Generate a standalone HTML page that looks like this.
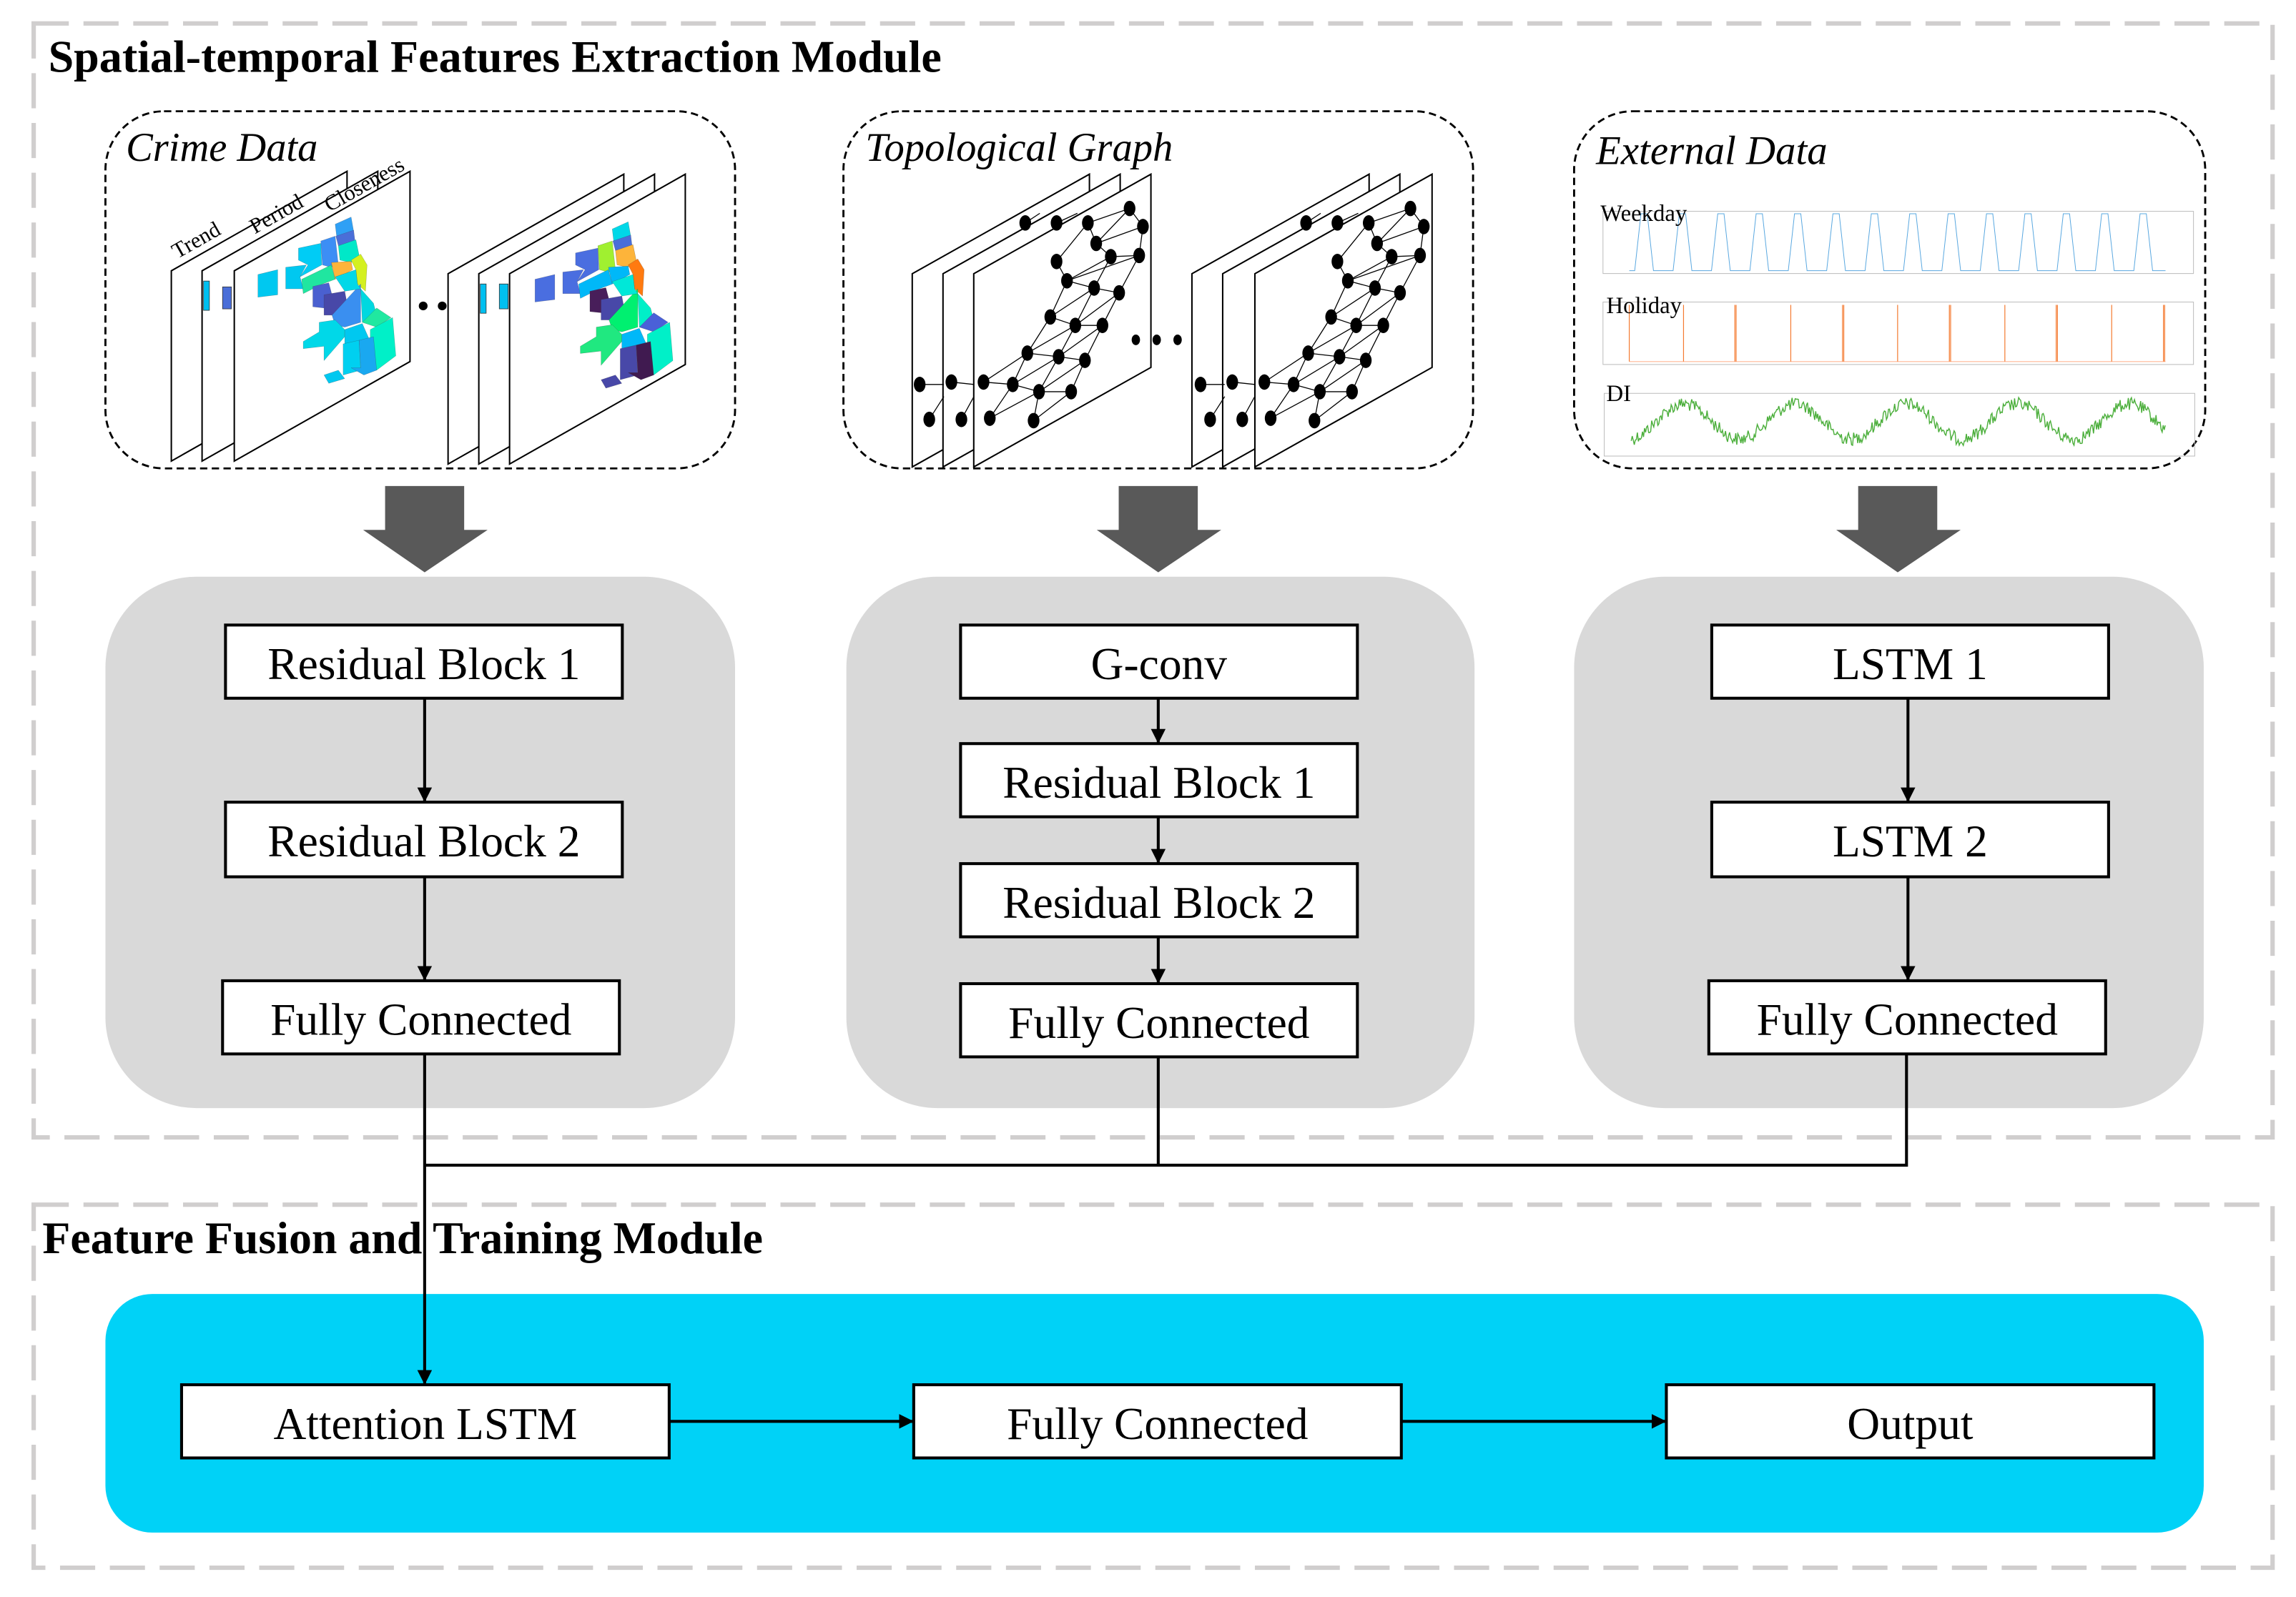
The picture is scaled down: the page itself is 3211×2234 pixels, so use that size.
<!DOCTYPE html>
<html><head><meta charset="utf-8"><style>
html,body{margin:0;padding:0;background:#fff;}
svg{display:block;}
text{font-family:"Liberation Serif",serif;}
</style></head><body>
<svg id="s" width="3211" height="2234" viewBox="0 0 1568 1091" preserveAspectRatio="none" xmlns="http://www.w3.org/2000/svg">
<defs>
<marker id="ah" viewBox="0 0 10 10" refX="10" refY="5" markerWidth="10" markerHeight="10" markerUnits="userSpaceOnUse" orient="auto">
<path d="M0,0 L10,5 L0,10 z" fill="#000"/></marker>
</defs>
<rect width="1568" height="1091" fill="#fff"/>
<rect x="23" y="16" width="1529" height="761" fill="none" stroke="#d0cece" stroke-width="3" stroke-dasharray="24 10"/>
<rect x="23" y="823" width="1529" height="248" fill="none" stroke="#d0cece" stroke-width="3" stroke-dasharray="24 10"/>
<text x="33" y="49" font-size="31" font-weight="bold" textLength="610" lengthAdjust="spacingAndGlyphs">Spatial-temporal Features Extraction Module</text>
<text x="29" y="856" font-size="31" font-weight="bold" textLength="492" lengthAdjust="spacingAndGlyphs">Feature Fusion and Training Module</text>

<rect x="72" y="76" width="430" height="244" rx="40" fill="none" stroke="#000" stroke-width="1.4" stroke-dasharray="5 3"/>
<rect x="576" y="76" width="430" height="244" rx="40" fill="none" stroke="#000" stroke-width="1.4" stroke-dasharray="5 3"/>
<rect x="1075" y="76" width="431" height="244" rx="40" fill="none" stroke="#000" stroke-width="1.4" stroke-dasharray="5 3"/>
<text x="86" y="110" font-size="28" font-style="italic" textLength="131" lengthAdjust="spacingAndGlyphs">Crime Data</text>
<text x="591" y="110" font-size="28" font-style="italic" textLength="210" lengthAdjust="spacingAndGlyphs">Topological Graph</text>
<text x="1090" y="112" font-size="28" font-style="italic" textLength="158" lengthAdjust="spacingAndGlyphs">External Data</text>

<g fill="#fff" stroke="#000" stroke-width="1">
<polygon points="117,185 237,117 237,247 117,315"/>
<polygon points="138,185 258,117 258,247 138,315"/>
<polygon points="160,185 280,117 280,247 160,315"/>
<polygon points="306,187 426,119 426,249 306,317"/>
<polygon points="327,187 447,119 447,249 327,317"/>
<polygon points="348,187 468,119 468,249 348,317"/>
</g>
<g font-size="15">
<text transform="translate(121,177) rotate(-29.5)">Trend</text>
<text transform="translate(174,160) rotate(-29.5)">Period</text>
<text transform="translate(225,145) rotate(-29.5)">Closeness</text>
</g>
<circle cx="289" cy="209" r="3" fill="#000"/><circle cx="302" cy="209" r="3" fill="#000"/>
<g stroke="#333" stroke-width="0.4">
<rect x="139" y="192" width="4" height="20" fill="#00c0f0"/>
<rect x="152" y="196" width="6" height="15" fill="#4a6ed8"/>
<rect x="328" y="194" width="4" height="20" fill="#00c0f0"/>
<rect x="341" y="194" width="6" height="17" fill="#00c0f0"/>
</g>
<g transform="translate(122.07,112.3) scale(0.2180,0.1635)" stroke="#333" stroke-width="0.5">
<g>
<polygon fill="#00c8f0" points="248,460 310,440 310,545 248,555"/>
<polygon fill="#00c8f0" points="335,430 400,420 380,470 390,520 335,520"/>
<polygon fill="#00ccf5" points="375,350 445,330 448,420 380,470 405,420 375,400"/>
<polygon fill="#3c8ef5" points="445,320 490,300 500,420 478,430 450,420"/>
<polygon fill="#2fa0f5" points="490,250 540,220 548,280 495,305"/>
<polygon fill="#4a6ed8" points="492,300 548,275 552,320 500,340"/>
<polygon fill="#00e8c8" points="500,340 555,315 565,380 540,410 505,400"/>
<polygon fill="#fdb43a" points="478,410 540,405 545,440 490,480"/>
<polygon fill="#d4f020" points="540,400 570,375 590,420 585,530 560,500 555,440"/>
<polygon fill="#20e6a0" points="385,480 478,420 490,480 450,500 390,540"/>
<polygon fill="#4a60d0" points="420,510 470,495 480,545 455,600 420,595"/>
<polygon fill="#4848a8" points="455,545 520,530 530,600 480,630 455,630"/>
<polygon fill="#3a8ff0" points="480,630 570,500 570,660 520,680 490,670"/>
<polygon fill="#00d8e8" points="490,470 555,440 560,500 570,520 520,530"/>
<polygon fill="#00d8e0" points="570,520 610,580 620,630 575,660"/>
<polygon fill="#20e8a0" points="575,660 620,600 665,640 620,680"/>
<polygon fill="#00d8e8" points="440,660 490,650 520,690 520,720 455,820 455,760 390,770 390,740 440,700"/>
<polygon fill="#00c8f0" points="520,690 575,665 600,740 560,740 520,750"/>
<polygon fill="#00f0c8" points="600,690 670,640 680,800 620,860 600,800"/>
<polygon fill="#00d0f0" points="515,750 565,735 570,860 515,880"/>
<polygon fill="#1aa8f0" points="565,735 610,720 620,860 580,880 540,850 570,850"/>
<polygon fill="#00c8f0" points="455,880 500,860 520,895 470,915"/>
</g>
<g transform="translate(868,20)">
<polygon fill="#4a6ee0" points="248,460 310,440 310,545 248,555"/>
<polygon fill="#4a6ee0" points="335,430 400,420 380,470 390,520 335,520"/>
<polygon fill="#4a6ee0" points="375,350 445,330 448,420 380,470 405,420 375,400"/>
<polygon fill="#a0f030" points="445,320 490,300 500,420 478,430 450,420"/>
<polygon fill="#00d8e8" points="490,250 540,220 548,280 495,305"/>
<polygon fill="#4a6ed8" points="492,300 548,275 552,320 500,340"/>
<polygon fill="#fdb43a" points="500,340 555,315 565,380 540,410 505,400"/>
<polygon fill="#00b8f8" points="478,410 540,405 545,440 490,480"/>
<polygon fill="#ff7a10" points="540,400 570,375 590,420 585,530 560,500 555,440"/>
<polygon fill="#00b8f8" points="385,480 478,420 490,480 450,500 390,540"/>
<polygon fill="#481e5a" points="420,510 470,495 480,545 455,600 420,595"/>
<polygon fill="#4848a8" points="455,545 520,530 530,600 480,630 455,630"/>
<polygon fill="#00f070" points="480,630 570,500 570,660 520,680 490,670"/>
<polygon fill="#00e8d8" points="490,470 555,440 560,500 570,520 520,530"/>
<polygon fill="#00f0c8" points="570,520 610,580 620,630 575,660"/>
<polygon fill="#4a60d8" points="575,660 620,600 665,640 620,680"/>
<polygon fill="#20e880" points="440,660 490,650 520,690 520,720 455,820 455,760 390,770 390,740 440,700"/>
<polygon fill="#00b8f8" points="520,690 575,665 600,740 560,740 520,750"/>
<polygon fill="#00f0c8" points="600,690 670,640 680,800 620,860 600,800"/>
<polygon fill="#4848a8" points="515,750 565,735 570,860 515,880"/>
<polygon fill="#401a50" points="565,735 610,720 620,860 580,880 540,850 570,850"/>
<polygon fill="#4848a8" points="455,880 500,860 520,895 470,915"/>
</g>
</g>

<g fill="#fff" stroke="#000" stroke-width="1">
<polygon points="623,187 744,119 744,251 623,319"/>
<polygon points="644,187 765,119 765,251 644,319"/>
<polygon points="665,187 786,119 786,251 665,319"/>
<polygon points="814,187 935,119 935,251 814,319"/>
<polygon points="835,187 956,119 956,251 835,319"/>
<polygon points="857,187 978,119 978,251 857,319"/>
</g>
<g transform="translate(576.2,73.24) scale(0.2850,0.1647)">
<g id="gr">
<path vector-effect="non-scaling-stroke" stroke="#000" stroke-width="1.3" fill="none" d="M685,420L717,495 M685,420L585,480 M685,420L605,565 M717,495L605,565 M717,495L708,615 M585,480L605,565 M585,480L510,640 M605,565L640,620 M640,620L708,615 M510,640L535,720 M640,620L535,720 M708,615L535,720 M640,620L600,750 M708,615L660,770 M535,720L600,750 M600,750L660,770 M535,720L495,870 M600,750L495,870 M600,750L555,905 M660,770L555,905 M660,770L620,905 M495,870L555,905 M555,905L620,905 M495,870L440,1020 M555,905L440,1020 M555,905L515,1035 M620,905L515,1035 M620,905L578,1050 M440,1020L515,1035 M515,1035L578,1050 M440,1020L335,1140 M440,1020L405,1150 M515,1035L405,1150 M515,1035L468,1180 M578,1050L468,1180 M578,1050L545,1180 M335,1140L405,1150 M405,1150L468,1180 M468,1180L545,1180 M405,1150L350,1290 M468,1180L350,1290 M468,1180L455,1300 M545,1180L455,1300"/>
<g fill="#000">
<ellipse cx="685" cy="420" rx="14" ry="32"/><ellipse cx="717" cy="495" rx="14" ry="32"/><ellipse cx="585" cy="480" rx="14" ry="32"/><ellipse cx="605" cy="565" rx="14" ry="32"/><ellipse cx="708" cy="615" rx="14" ry="32"/><ellipse cx="640" cy="620" rx="14" ry="32"/><ellipse cx="510" cy="640" rx="14" ry="32"/><ellipse cx="535" cy="720" rx="14" ry="32"/><ellipse cx="600" cy="750" rx="14" ry="32"/><ellipse cx="660" cy="770" rx="14" ry="32"/><ellipse cx="495" cy="870" rx="14" ry="32"/><ellipse cx="555" cy="905" rx="14" ry="32"/><ellipse cx="620" cy="905" rx="14" ry="32"/><ellipse cx="440" cy="1020" rx="14" ry="32"/><ellipse cx="515" cy="1035" rx="14" ry="32"/><ellipse cx="578" cy="1050" rx="14" ry="32"/><ellipse cx="335" cy="1140" rx="14" ry="32"/><ellipse cx="405" cy="1150" rx="14" ry="32"/><ellipse cx="468" cy="1180" rx="14" ry="32"/><ellipse cx="545" cy="1180" rx="14" ry="32"/><ellipse cx="350" cy="1290" rx="14" ry="32"/><ellipse cx="455" cy="1300" rx="14" ry="32"/>
<ellipse cx="435" cy="480" rx="14" ry="32"/><ellipse cx="510" cy="480" rx="14" ry="32"/><ellipse cx="182" cy="1150" rx="14" ry="32"/><ellipse cx="258" cy="1140" rx="14" ry="32"/><ellipse cx="205" cy="1295" rx="14" ry="32"/><ellipse cx="282" cy="1295" rx="14" ry="32"/>
</g>
<path vector-effect="non-scaling-stroke" stroke="#000" stroke-width="1.3" d="M182,1150L240,1150 M258,1140L312,1150 M205,1295L240,1200 M282,1295L312,1200 M435,480L470,440 M510,480L560,440"/>
</g>
<g transform="translate(673,0)"><use href="#gr"/></g>
<g fill="#000"><ellipse cx="700" cy="965" rx="10" ry="22"/><ellipse cx="750" cy="965" rx="10" ry="22"/><ellipse cx="800" cy="965" rx="10" ry="22"/></g>
</g>

<g transform="translate(1074.2,73.24) scale(0.2850,0.1647)" fill="none">
<rect x="72" y="432" width="1415" height="258" stroke="#bbb" stroke-width="1" vector-effect="non-scaling-stroke"/>
<rect x="72" y="808" width="1415" height="259" stroke="#bbb" stroke-width="1" vector-effect="non-scaling-stroke"/>
<rect x="75" y="1187" width="1415" height="260" stroke="#bbb" stroke-width="1" vector-effect="non-scaling-stroke"/>
<polyline id="wk" stroke="#5aa8e0" stroke-width="1" vector-effect="non-scaling-stroke" points="135,678"/>
<path stroke="#ffc8b0" stroke-width="1.5" vector-effect="non-scaling-stroke" d="M135,1055L1420,1055"/>
<path stroke="#f47a30" stroke-width="1.2" vector-effect="non-scaling-stroke" d="M135,820V1055 M265,820V1055 M388,820V1055 M391,820V1055 M522,820V1055 M646,820V1055 M649,820V1055 M778,820V1055 M902,820V1055 M905,820V1055 M1035,820V1055 M1158,820V1055 M1161,820V1055 M1291,820V1055 M1415,820V1055 M1418,820V1055"/>
</g>
<polyline id="di" fill="none" stroke="#4caf3c" stroke-width="0.7" points=""/>
<g font-size="16">
<text x="1093" y="151">Weekday</text>
<text x="1097" y="214">Holiday</text>
<text x="1097" y="274">DI</text>
</g>

<g fill="#595959">
<polygon points="263,332 317,332 317,362 333,362 290,391 248,362 263,362"/>
<polygon points="764,332 818,332 818,362 834,362 791,391 749,362 764,362"/>
<polygon points="1269,332 1323,332 1323,362 1339,362 1296,391 1254,362 1269,362"/>
</g>

<rect x="72" y="394" width="430" height="363" rx="62" fill="#d9d9d9"/>
<rect x="578" y="394" width="429" height="363" rx="62" fill="#d9d9d9"/>
<rect x="1075" y="394" width="430" height="363" rx="62" fill="#d9d9d9"/>
<rect x="72" y="884" width="1433" height="163" rx="32" fill="#00d2f7"/>

<g stroke="#000" stroke-width="2" fill="none">
<line x1="290" y1="477" x2="290" y2="548" marker-end="url(#ah)"/>
<line x1="290" y1="599" x2="290" y2="670" marker-end="url(#ah)"/>
<line x1="791" y1="477" x2="791" y2="508" marker-end="url(#ah)"/>
<line x1="791" y1="558" x2="791" y2="590" marker-end="url(#ah)"/>
<line x1="791" y1="640" x2="791" y2="672" marker-end="url(#ah)"/>
<line x1="1303" y1="477" x2="1303" y2="548" marker-end="url(#ah)"/>
<line x1="1303" y1="599" x2="1303" y2="670" marker-end="url(#ah)"/>
<polyline points="791,722 791,796"/>
<polyline points="1302,720 1302,796 290,796"/>
<line x1="290" y1="720" x2="290" y2="946" marker-end="url(#ah)"/>
<line x1="457" y1="971" x2="624" y2="971" marker-end="url(#ah)"/>
<line x1="957" y1="971" x2="1138" y2="971" marker-end="url(#ah)"/>
</g>

<g fill="#fff" stroke="#000" stroke-width="2">
<rect x="154" y="427" width="271" height="50"/>
<rect x="154" y="548" width="271" height="51"/>
<rect x="152" y="670" width="271" height="50"/>
<rect x="656" y="427" width="271" height="50"/>
<rect x="656" y="508" width="271" height="50"/>
<rect x="656" y="590" width="271" height="50"/>
<rect x="656" y="672" width="271" height="50"/>
<rect x="1169" y="427" width="271" height="50"/>
<rect x="1169" y="548" width="271" height="51"/>
<rect x="1167" y="670" width="271" height="50"/>
<rect x="124" y="946" width="333" height="50"/>
<rect x="624" y="946" width="333" height="50"/>
<rect x="1138" y="946" width="333" height="50"/>
</g>
<g font-size="31" text-anchor="middle">
<text x="289.5" y="464">Residual Block 1</text>
<text x="289.5" y="585">Residual Block 2</text>
<text x="287.5" y="707">Fully Connected</text>
<text x="791.5" y="464">G-conv</text>
<text x="791.5" y="545">Residual Block 1</text>
<text x="791.5" y="627">Residual Block 2</text>
<text x="791.5" y="709">Fully Connected</text>
<text x="1304.5" y="464">LSTM 1</text>
<text x="1304.5" y="585">LSTM 2</text>
<text x="1302.5" y="707">Fully Connected</text>
<text x="290.5" y="983">Attention LSTM</text>
<text x="790.5" y="983">Fully Connected</text>
<text x="1304.5" y="983">Output</text>
</g>
</svg>
<script>
(function(){
var p=["135,678"];
for(var k=0;k<14;k++){var o=92*k;p.push((148+o)+",678",(163+o)+",442",(178+o)+",442",(193+o)+",678");}
p.push("1420,678");
document.getElementById("wk").setAttribute("points",p.join(" "));
var s=12345;function r(){s=(s*1103515245+12345)%2147483648;return s/2147483648;}
var q=[];for(var x=1114;x<=1479;x+=0.7){var y=288-12*Math.cos(2*Math.PI*(x-1150)/76)+(r()-0.5)*9;q.push(x.toFixed(1)+","+y.toFixed(1));}
document.getElementById("di").setAttribute("points",q.join(" "));
})();
</script>
</body></html>
